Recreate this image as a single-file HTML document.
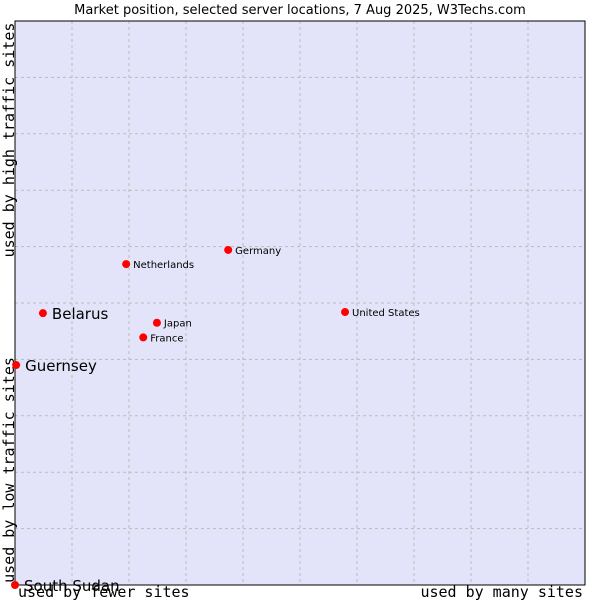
<!DOCTYPE html>
<html><head><meta charset="utf-8"><style>
body{margin:0;background:#fff;}
svg text{font-family:"DejaVu Sans","Liberation Sans",sans-serif;}
</style></head><body>
<svg width="600" height="600" xmlns="http://www.w3.org/2000/svg">
<text x="300" y="14" text-anchor="middle" font-size="13" fill="#000">Market position, selected server locations, 7 Aug 2025, W3Techs.com</text>
<rect x="15" y="21" width="570" height="564" fill="#e3e4fa"/>
<g id="grid"></g>
<rect x="15" y="21" width="570" height="564" fill="none" stroke="#000" stroke-width="1"/>
<text transform="translate(14,140) rotate(-90)" text-anchor="middle" font-family="DejaVu Sans Mono, Liberation Mono, monospace" font-size="15" style="font-family:'DejaVu Sans Mono','Liberation Mono',monospace">used by high traffic sites</text>
<text transform="translate(14,470) rotate(-90)" text-anchor="middle" font-size="15" style="font-family:'DejaVu Sans Mono','Liberation Mono',monospace">used by low traffic sites</text>
<text x="18" y="597" font-size="15" style="font-family:'DejaVu Sans Mono','Liberation Mono',monospace">used by fewer sites</text>
<text x="583" y="597" text-anchor="end" font-size="15" style="font-family:'DejaVu Sans Mono','Liberation Mono',monospace">used by many sites</text>
<g id="points"></g>
</svg>
<script>
const labels = ["South Sudan","Guernsey","Belarus","Netherlands","France","Japan","Germany","United States"];
const xValues = [0, 0.2, 4.9, 19.5, 22.5, 24.9, 37.4, 57.9];
const yValues = [0, 39, 48.2, 56.9, 43.9, 46.5, 59.4, 48.4];
const bigLabel = [true, true, true, false, false, false, false, false];

const NS = "http://www.w3.org/2000/svg";
const X0 = 15, X1 = 585, Y0 = 585, Y1 = 21;
const xScale = v => X0 + v / 100 * (X1 - X0);
const yScale = v => Y0 - v / 100 * (Y0 - Y1);

const grid = document.getElementById('grid');
for (let i = 1; i < 10; i++) {
  const lv = document.createElementNS(NS, 'line');
  lv.setAttribute('x1', xScale(i*10)); lv.setAttribute('x2', xScale(i*10));
  lv.setAttribute('y1', Y1); lv.setAttribute('y2', Y0);
  lv.setAttribute('stroke', '#bbb'); lv.setAttribute('stroke-dasharray', '3,3');
  
  
  grid.appendChild(lv);
  const lh = document.createElementNS(NS, 'line');
  lh.setAttribute('y1', yScale(i*10)); lh.setAttribute('y2', yScale(i*10));
  lh.setAttribute('x1', X0); lh.setAttribute('x2', X1);
  lh.setAttribute('stroke', '#bbb'); lh.setAttribute('stroke-dasharray', '3,3');
  
  
  grid.appendChild(lh);
}

const pts = document.getElementById('points');
labels.forEach((name, i) => {
  const cx = xScale(xValues[i]), cy = yScale(yValues[i]);
  const c = document.createElementNS(NS, 'circle');
  c.setAttribute('cx', cx); c.setAttribute('cy', cy); c.setAttribute('r', 4);
  c.setAttribute('fill', '#ff0000');
  
  
  pts.appendChild(c);
  const t = document.createElementNS(NS, 'text');
  const big = bigLabel[i];
  t.setAttribute('x', cx + (big ? 9 : 7));
  t.setAttribute('y', cy + (big ? 6 : 4));
  t.setAttribute('font-size', big ? 15 : 10);
  t.textContent = name;
  
  
  pts.appendChild(t);
});
</script>
</body></html>
